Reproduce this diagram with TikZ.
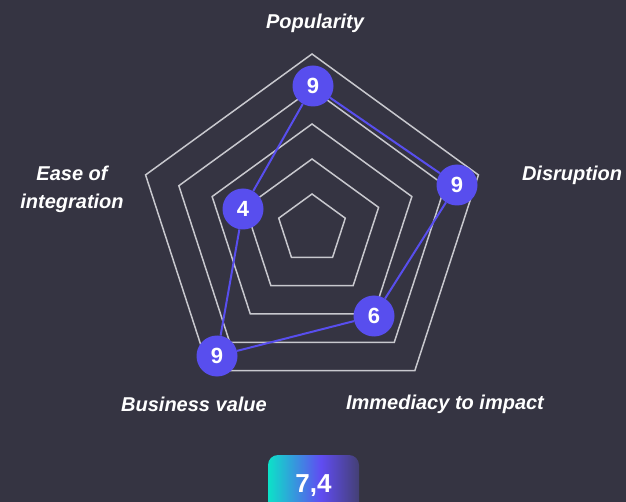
\documentclass[tikz,border=0pt]{standalone}
\usepackage{fontspec}
\setmainfont{Liberation Sans}
\definecolor{bg}{RGB}{53,52,66}
\definecolor{gridgray}{RGB}{200,200,206}
\definecolor{dotblue}{RGB}{88,78,238}
\definecolor{badgecyan}{RGB}{12,226,200}
\definecolor{badgepurple}{RGB}{96,76,242}
\definecolor{badgedark}{RGB}{68,64,116}
\pgfdeclarehorizontalshading{badgeshade}{100bp}{color(0bp)=(badgecyan); color(25bp)=(badgecyan); color(54bp)=(badgepurple); color(75bp)=(badgedark); color(100bp)=(badgedark)}
\begin{document}
\begin{tikzpicture}[x=1pt,y=-1pt,
  gridline/.style={draw=gridgray, line width=1.5pt},
  link/.style={draw=dotblue, line width=2pt},
  dot/.style={circle, fill=dotblue, minimum size=41pt, inner sep=0pt, text=white,
    font=\fontsize{22}{24}\selectfont\bfseries},
  axislabel/.style={text=white, font=\fontsize{20}{28}\selectfont\bfseries\itshape, align=center, inner sep=0pt},
  badge/.style={rounded corners=10pt, shading=badgeshade,
    minimum width=91pt, minimum height=62pt, inner sep=0pt, text=white,
    font=\fontsize{26}{28}\selectfont\bfseries}]
\clip (0,0) rectangle (626,502);
\fill[bg] (0,0) rectangle (626,502);
\useasboundingbox (0,0) rectangle (626,502);
% grid pentagons
\foreach \r in {35,70,105,140,175}{
  \draw[gridline] ({312+\r*cos(90)},{229-\r*sin(90)})
    -- ({312+\r*cos(18)},{229-\r*sin(18)})
    -- ({312+\r*cos(-54)},{229-\r*sin(-54)})
    -- ({312+\r*cos(-126)},{229-\r*sin(-126)})
    -- ({312+\r*cos(162)},{229-\r*sin(162)}) -- cycle;
}
% data points
\node[dot] (pop) at (313,86) {9};
\node[dot] (dis) at (457,185) {9};
\node[dot] (imm) at (374,316) {6};
\node[dot] (bus) at (217,356) {9};
\node[dot] (ease) at (243,209) {4};
\draw[link] (pop) -- (dis);
\draw[link] (dis) -- (imm);
\draw[link] (imm) -- (bus);
\draw[link] (bus) -- (ease);
\draw[link] (ease) -- (pop);
% labels
\node[axislabel] (lpop) at (315,23) {Popularity};
\node[axislabel] (ldis) at (572,175) {Disruption};
\node[axislabel] (lease) at (72,189) {Ease of\\integration};
\node[axislabel] (lbus) at (194,404) {Business value};
\node[axislabel] (limm) at (445,404) {Immediacy to impact};
% badge
\node[badge] (score) at (313.5,486) {7,4};
\end{tikzpicture}
\end{document}
